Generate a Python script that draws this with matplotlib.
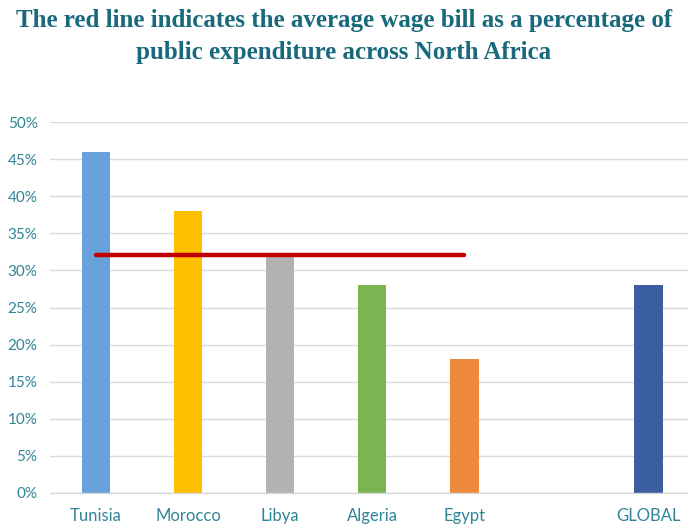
import matplotlib
matplotlib.use("Agg")
import matplotlib.pyplot as plt
from matplotlib.ticker import FuncFormatter

# Wage bill as share of public expenditure
countries = ["Tunisia", "Morocco", "Libya", "Algeria", "Egypt", "", "GLOBAL"]
wage_share = [46, 38, 32, 28, 18, None, 28]
bar_colors = ["#67a3da", "#ffc000", "#b3b3b3", "#7ab552", "#ef8a3c", "none", "#3a5ea0"]
regional_average = 32.1
average_span = ["Tunisia", "Egypt"]
y_ticks = [0, 5, 10, 15, 20, 25, 30, 35, 40, 45, 50]

title_color = "#17697b"
tick_color = "#2f8598"

fig = plt.figure(figsize=(6.88, 5.24), dpi=100)
ax = fig.add_axes([50 / 688, 1 - 493 / 524, 1 - 50 / 688, (493 - 122) / 524])

xs = list(range(len(countries)))
for x, v, c in zip(xs, wage_share, bar_colors):
    if v is not None:
        ax.bar(x, v, width=0.31, color=c, zorder=2)

x0 = countries.index(average_span[0])
x1 = countries.index(average_span[1])
ax.plot([x0, x1], [regional_average, regional_average], color="#c00000",
        linewidth=3.2, solid_capstyle="round", zorder=3)

ax.set_ylim(0, 50)
ax.set_xlim(-0.5, 6.43)
ax.set_yticks(y_ticks)
ax.yaxis.set_major_formatter(FuncFormatter(lambda v, p: f"{int(v)}%"))
ax.set_xticks(xs)
ax.set_xticklabels(countries)
ax.grid(axis="y", color="#d9d9d9", linewidth=1, zorder=0)
ax.set_axisbelow(True)
for s in ["top", "right", "left"]:
    ax.spines[s].set_visible(False)
ax.spines["bottom"].set_color("#d9d9d9")
ax.spines["bottom"].set_linewidth(1)
ax.tick_params(axis="both", length=0, labelcolor=tick_color)
ax.tick_params(axis="x", pad=11, labelsize=12)
ax.tick_params(axis="y", pad=9, labelsize=11)
for lab in ax.get_xticklabels() + ax.get_yticklabels():
    lab.set_family("Lato")

fig.text(0.5, 1 - 20 / 524, "The red line indicates the average wage bill as a percentage of",
         ha="center", va="center", fontsize=18, fontweight="bold",
         family="Liberation Serif", color=title_color)
fig.text(0.5, 1 - 53 / 524, "public expenditure across North Africa",
         ha="center", va="center", fontsize=18, fontweight="bold",
         family="Liberation Serif", color=title_color)

fig.savefig("out.png", dpi=100)
